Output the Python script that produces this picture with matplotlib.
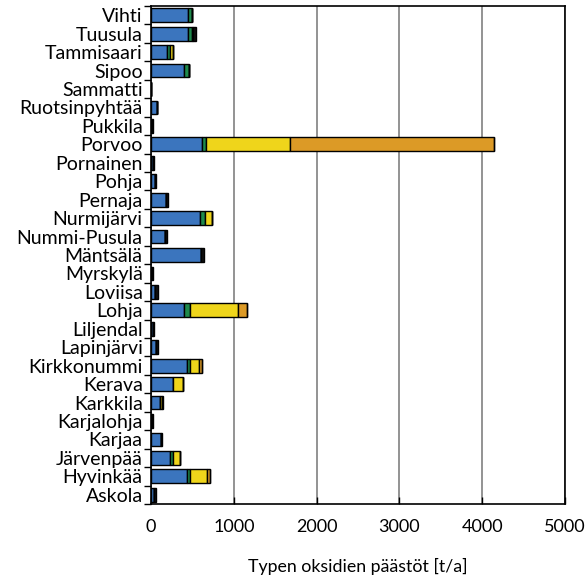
import matplotlib
matplotlib.use("Agg")
import matplotlib.pyplot as plt
import numpy as np

kunnat = ["Askola", "Hyvinkää", "Järvenpää", "Karjaa", "Karjalohja", "Karkkila",
          "Kerava", "Kirkkonummi", "Lapinjärvi", "Liljendal", "Lohja", "Loviisa",
          "Myrskylä", "Mäntsälä", "Nummi-Pusula", "Nurmijärvi", "Pernaja", "Pohja",
          "Pornainen", "Porvoo", "Pukkila", "Ruotsinpyhtää", "Sammatti", "Sipoo",
          "Tammisaari", "Tuusula", "Vihti"]

sininen = [40, 440, 230, 115, 12, 110, 260, 440, 60, 30, 400, 50,
           15, 600, 170, 590, 180, 50, 30, 620, 15, 70, 0, 400,
           190, 450, 450]
vihrea = [0, 30, 30, 0, 0, 0, 10, 30, 0, 0, 65, 0,
          0, 0, 0, 60, 0, 0, 0, 50, 0, 0, 0, 60,
          35, 40, 45]
keltainen = [0, 210, 90, 0, 0, 25, 120, 110, 0, 0, 590, 0,
             0, 0, 0, 90, 0, 0, 0, 1010, 0, 0, 0, 0,
             35, 20, 0]
oranssi = [0, 30, 0, 0, 0, 0, 0, 35, 0, 0, 105, 0,
           0, 0, 0, 0, 0, 0, 0, 2460, 0, 0, 0, 0,
           0, 0, 0]
muut = [15, 0, 0, 20, 10, 15, 0, 0, 25, 8, 0, 30,
        8, 35, 25, 0, 25, 10, 10, 0, 10, 0, 0, 0,
        10, 30, 0]

sarjat = [sininen, vihrea, keltainen, oranssi, muut]
varit = ["#3b75be", "#1f8a4c", "#efd51b", "#dc9a26", "#111111"]

plt.rcParams["font.family"] = ["Lato", "DejaVu Sans"]

fig = plt.figure(figsize=(5.86, 5.81), dpi=100)
ax = fig.add_axes([151 / 586, 1 - 504 / 581, 414 / 586, 498 / 581])

y = np.arange(len(kunnat))
vasen = np.zeros(len(kunnat))
for arvot, vari in zip(sarjat, varit):
    arvot = np.array(arvot, dtype=float)
    ax.barh(y, arvot, left=vasen, height=0.75, color=vari,
            edgecolor="black", linewidth=1.0, zorder=3)
    vasen += arvot

ax.set_xlim(0, 5000)
ax.set_ylim(-0.5, len(kunnat) - 0.5)
ax.set_xticks(np.arange(0, 5001, 1000))
ax.set_yticks(y)
ax.set_yticklabels(kunnat, fontsize=14)
ax.set_yticks(np.arange(-0.5, len(kunnat), 1), minor=True)
ax.tick_params(axis="y", which="major", length=0, pad=6)
ax.tick_params(axis="y", which="minor", length=5, width=1, direction="out")
ax.tick_params(axis="x", which="major", length=5, width=1, direction="in",
               labelsize=13, pad=11)
ax.grid(axis="x", color="#808080", linewidth=1.2, zorder=0)
for s in ax.spines.values():
    s.set_linewidth(1.2)
ax.set_xlabel("Typen oksidien päästöt [t/a]", fontsize=12.8, labelpad=16)

fig.savefig("out.png", dpi=100)
